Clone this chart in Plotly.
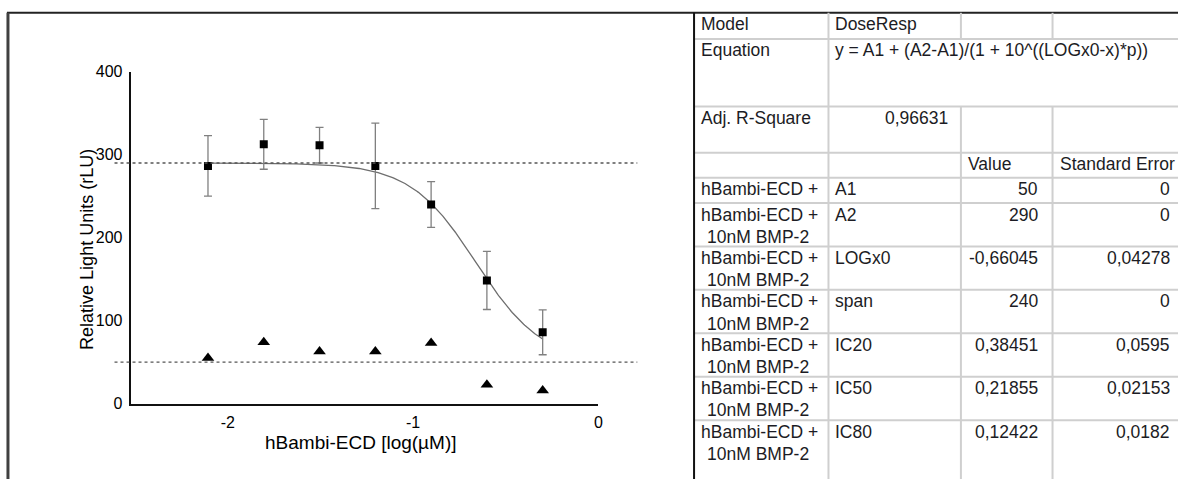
import numpy as np
import plotly.graph_objects as go

# ---- data -------------------------------------------------------------
log_conc = [-2.107, -1.806, -1.505, -1.204, -0.903, -0.602, -0.301]
rlu_bmp2 = [286.5, 312.5, 311.5, 286.5, 240.0, 148.5, 86.0]
rlu_bmp2_err = [36.5, 30.0, 21.5, 51.5, 27.5, 35.0, 27.0]
rlu_ecd = [55, 74, 63, 63, 73, 23, 16]

# DoseResp fit parameters
A1 = 50.0
A2 = 290.0
LOGX0 = -0.66045
HILL_P = -2.45

x_ticks = [-2, -1, 0]
y_ticks = [0, 100, 200, 300, 400]

# fit report table
fit_model = ["Model", "DoseResp"]
fit_equation = ["Equation", "y = A1 + (A2-A1)/(1 + 10^((LOGx0-x)*p))"]
fit_adj_r2 = ["Adj. R-Square", "0,96631"]
param_header = ["Value", "Standard Error"]
param_group = "hBambi-ECD +"
param_group2 = "10nM BMP-2"
param_names = ["A1", "A2", "LOGx0", "span", "IC20", "IC50", "IC80"]
param_values = ["50", "290", "-0,66045", "240", "0,38451", "0,21855", "0,12422"]
param_errors = ["0", "0", "0,04278", "0", "0,0595", "0,02153", "0,0182"]

# ---- geometry helpers (pixel -> paper) -------------------------------
W, H = 1183, 488


def px(x):
    return x / W


def py(y):
    return 1 - y / H


FONT = "Liberation Sans, Arial, sans-serif"
TXT = "#1c1c24"

fig = go.Figure()

# fitted dose-response curve
xc = np.linspace(log_conc[0], log_conc[-1], 300)
yc = A1 + (A2 - A1) / (1 + 10 ** ((LOGX0 - xc) * HILL_P))
fig.add_trace(go.Scatter(x=xc, y=yc, mode="lines",
                         line=dict(color="#6e6e6e", width=1.3),
                         hoverinfo="skip", showlegend=False))

# hBambi-ECD + 10nM BMP-2 (mean +/- error)
fig.add_trace(go.Scatter(
    x=log_conc, y=rlu_bmp2, mode="markers",
    marker=dict(symbol="square", size=8, color="black"),
    error_y=dict(type="data", array=rlu_bmp2_err, color="#808080",
                 thickness=1.3, width=4),
    showlegend=False))

# hBambi-ECD alone
fig.add_trace(go.Scatter(
    x=log_conc, y=rlu_ecd, mode="markers",
    marker=dict(symbol="triangle-up", size=11, color="black"),
    showlegend=False))

shapes = []
# asymptote reference lines
for level in (A2, A1):
    shapes.append(dict(type="line", xref="paper", yref="y",
                       x0=px(115), x1=px(640), y0=level, y1=level,
                       line=dict(color="#555555", width=1.3, dash="dot")))

# outer frame and panel divider
shapes.append(dict(type="line", xref="paper", yref="paper",
                   x0=px(7), x1=1, y0=py(5), y1=py(5),
                   line=dict(color="#222222", width=2)))
shapes.append(dict(type="line", xref="paper", yref="paper",
                   x0=px(8), x1=px(8), y0=py(5), y1=0,
                   line=dict(color="#404040", width=3)))

# table grid
GRID = "#cfcfcf"
col_x = [697, 832, 965, 1057, 1183]
row_y = [5, 32, 102, 150, 176, 202, 247, 292, 337, 382, 427]
for y in row_y[1:]:
    shapes.append(dict(type="line", xref="paper", yref="paper",
                       x0=px(697), x1=1, y0=py(y), y1=py(y),
                       line=dict(color=GRID, width=2)))
shapes.append(dict(type="line", xref="paper", yref="paper",
                   x0=px(832), x1=px(832), y0=py(5), y1=0,
                   line=dict(color=GRID, width=2)))
for cx in (965, 1057):
    shapes.append(dict(type="line", xref="paper", yref="paper",
                       x0=px(cx), x1=px(cx), y0=py(5), y1=py(32),
                       line=dict(color=GRID, width=2)))
    shapes.append(dict(type="line", xref="paper", yref="paper",
                       x0=px(cx), x1=px(cx), y0=py(102), y1=0,
                       line=dict(color=GRID, width=2)))
shapes.append(dict(type="line", xref="paper", yref="paper",
                   x0=px(697), x1=px(697), y0=py(5), y1=0,
                   line=dict(color="#111111", width=2)))

annotations = []


def cell(text, x, y, anchor="left", size=17.5):
    annotations.append(dict(text=text, xref="paper", yref="paper",
                            x=px(x), y=py(y), xanchor=anchor,
                            yanchor="middle", showarrow=False,
                            font=dict(family=FONT, size=size, color=TXT)))


PAD = 5
LINE2 = 23
first_line = [r + 12 for r in row_y]

cell(fit_model[0], col_x[0] + PAD, first_line[0])
cell(fit_model[1], col_x[1] + PAD, first_line[0])
cell(fit_equation[0], col_x[0] + PAD, first_line[1])
cell(fit_equation[1], col_x[1] + PAD, first_line[1])
cell(fit_adj_r2[0], col_x[0] + PAD, first_line[2])
cell(fit_adj_r2[1], col_x[2] - 11, first_line[2], "right")
cell(param_header[0], col_x[2] + PAD, first_line[3])
cell(param_header[1], col_x[3] + PAD, first_line[3])

for i, name in enumerate(param_names):
    ty = first_line[4 + i]
    cell(param_group, col_x[0] + PAD, ty)
    if i > 0:
        cell(param_group2, col_x[0] + PAD + 6, ty + LINE2)
    cell(name, col_x[1] + PAD, ty)
    cell(param_values[i], col_x[3] - 13, ty, "right")
    cell(param_errors[i], col_x[4] - 6, ty, "right")

# axis titles
annotations.append(dict(text="hBambi-ECD [log(µM)]", xref="paper", yref="paper",
                        x=px(362), y=py(450), xanchor="center", yanchor="middle",
                        showarrow=False,
                        font=dict(family=FONT, size=19, color="black")))
annotations.append(dict(text="Relative Light Units (rLU)", xref="paper", yref="paper",
                        x=px(88), y=py(250), xanchor="center", yanchor="middle",
                        textangle=-90, showarrow=False,
                        font=dict(family=FONT, size=18, color="black")))

fig.update_layout(
    width=W, height=H,
    margin=dict(l=0, r=0, t=0, b=0),
    paper_bgcolor="white", plot_bgcolor="white",
    shapes=shapes, annotations=annotations,
    xaxis=dict(domain=[px(132), px(601)], range=[-2.52, 0],
               tickvals=x_ticks, ticktext=[str(v) for v in x_ticks],
               showline=True, linecolor="#111111", linewidth=1.6,
               showgrid=False, zeroline=False, ticks="",
               ticklabelstandoff=3,
               tickfont=dict(family=FONT, size=16, color="black")),
    yaxis=dict(domain=[py(410), py(66)], range=[0, 400],
               tickvals=y_ticks, ticktext=[str(v) for v in y_ticks],
               showline=True, linecolor="#111111", linewidth=1.6,
               showgrid=False, zeroline=False, ticks="",
               ticklabelstandoff=4,
               tickfont=dict(family=FONT, size=16, color="black")),
)

fig.write_html("out.html")
